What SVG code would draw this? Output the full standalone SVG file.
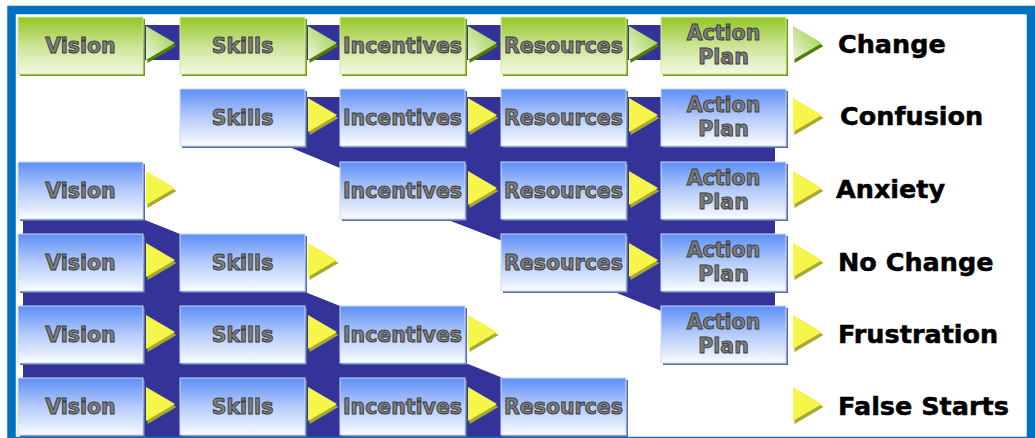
<svg xmlns="http://www.w3.org/2000/svg" width="1035" height="438" viewBox="0 0 1035 438">
<defs>
<linearGradient id="gb" x1="0" y1="0" x2="0" y2="1"><stop offset="0" stop-color="#5D8FF7"/><stop offset="0.5" stop-color="#B5CBFA"/><stop offset="1" stop-color="#FAFCFF"/></linearGradient>
<linearGradient id="gg" x1="0" y1="0" x2="0" y2="1"><stop offset="0" stop-color="#92C623"/><stop offset="0.5" stop-color="#CBE494"/><stop offset="1" stop-color="#F3F9E4"/></linearGradient>
<linearGradient id="gt" x1="0" y1="1" x2="1" y2="0"><stop offset="0" stop-color="#EEF7DD"/><stop offset="1" stop-color="#96CB3A"/></linearGradient>
</defs>
<style>
.navy{fill:#333399}
.shb{fill:#5A6C9C}
.shg{fill:#6E9C12}
.bb{fill:url(#gb);stroke:#C9D9F9;stroke-width:1}
.bg{fill:url(#gg);stroke:#D5EAA5;stroke-width:1}
.t{font-family:"DejaVu Sans",sans-serif;font-weight:bold;font-size:20.5px;fill:#7E7E7E;stroke:#3A3A3A;stroke-width:0.9;text-anchor:middle}
.lab{font-family:"DejaVu Sans",sans-serif;font-weight:bold;font-size:25.5px;fill:#000;stroke:#000;stroke-width:0.5}
.ty{fill:#F6F54A}
.tys{fill:#A9A830}
.tg{fill:url(#gt)}
.tgs{fill:#4F7F05}
</style>
<rect x="0" y="0" width="1035" height="438" fill="#fff"/>
<g id="bands">
<rect class="navy" x="140" y="25" width="525" height="35"/>
<polygon class="navy" points="180,97 775,97 775,312 664,312 612,291 506,291 506,240 500,240 443,218 345,218 345,168 340,168 287,146 185,146"/>
<polygon class="navy" points="23,218 140,218 185,236 300,236 300,290 345,308 460,308 460,362 463,362 508,380 620,380 620,438 23,438"/>
</g>
<g id="connectors">
<polygon class="tgs" points="147.5,29 176.5,46 147.5,63"/><polygon class="tg" points="146,26 175,43 146,60"/>
<polygon class="tgs" points="309.5,29 338.5,46 309.5,63"/><polygon class="tg" points="308,26 337,43 308,60"/>
<polygon class="tgs" points="469.5,29 498.5,46 469.5,63"/><polygon class="tg" points="468,26 497,43 468,60"/>
<polygon class="tgs" points="630.5,29 659.5,46 630.5,63"/><polygon class="tg" points="629,26 658,43 629,60"/>
<polygon class="tgs" points="794.5,29 823.5,46 794.5,63"/><polygon class="tg" points="793,26 822,43 793,60"/>

<polygon class="tys" points="309.5,101 338.5,118 309.5,135"/><polygon class="ty" points="308,98 337,115 308,132"/>
<polygon class="tys" points="469.5,101 498.5,118 469.5,135"/><polygon class="ty" points="468,98 497,115 468,132"/>
<polygon class="tys" points="630.5,101 659.5,118 630.5,135"/><polygon class="ty" points="629,98 658,115 629,132"/>
<polygon class="tys" points="794.5,101 823.5,118 794.5,135"/><polygon class="ty" points="793,98 822,115 793,132"/>

<polygon class="tys" points="147.5,174 176.5,191 147.5,208"/><polygon class="ty" points="146,171 175,188 146,205"/>
<polygon class="tys" points="469.5,174 498.5,191 469.5,208"/><polygon class="ty" points="468,171 497,188 468,205"/>
<polygon class="tys" points="630.5,174 659.5,191 630.5,208"/><polygon class="ty" points="629,171 658,188 629,205"/>
<polygon class="tys" points="794.5,174 823.5,191 794.5,208"/><polygon class="ty" points="793,171 822,188 793,205"/>

<polygon class="tys" points="147.5,246 176.5,263 147.5,280"/><polygon class="ty" points="146,243 175,260 146,277"/>
<polygon class="tys" points="309.5,246 338.5,263 309.5,280"/><polygon class="ty" points="308,243 337,260 308,277"/>
<polygon class="tys" points="630.5,246 659.5,263 630.5,280"/><polygon class="ty" points="629,243 658,260 629,277"/>
<polygon class="tys" points="794.5,246 823.5,263 794.5,280"/><polygon class="ty" points="793,243 822,260 793,277"/>

<polygon class="tys" points="147.5,318 176.5,335 147.5,352"/><polygon class="ty" points="146,315 175,332 146,349"/>
<polygon class="tys" points="309.5,318 338.5,335 309.5,352"/><polygon class="ty" points="308,315 337,332 308,349"/>
<polygon class="tys" points="469.5,318 498.5,335 469.5,352"/><polygon class="ty" points="468,315 497,332 468,349"/>
<polygon class="tys" points="794.5,318 823.5,335 794.5,352"/><polygon class="ty" points="793,315 822,332 793,349"/>

<polygon class="tys" points="147.5,390 176.5,407 147.5,424"/><polygon class="ty" points="146,387 175,404 146,421"/>
<polygon class="tys" points="309.5,390 338.5,407 309.5,424"/><polygon class="ty" points="308,387 337,404 308,421"/>
<polygon class="tys" points="469.5,390 498.5,407 469.5,424"/><polygon class="ty" points="468,387 497,404 468,421"/>
<polygon class="tys" points="794.5,390 823.5,407 794.5,424"/><polygon class="ty" points="793,387 822,404 793,421"/>
</g>

<g id="r1-vision"><rect class="shg" x="20" y="19" width="125" height="57"/><rect class="bg" x="18" y="17" width="125" height="57"/><text class="t" x="80.5" y="53">Vision</text></g>
<g id="r1-skills"><rect class="shg" x="182" y="19" width="125" height="57"/><rect class="bg" x="180" y="17" width="125" height="57"/><text class="t" x="242.5" y="53">Skills</text></g>
<g id="r1-incentives"><rect class="shg" x="342" y="19" width="125" height="57"/><rect class="bg" x="340" y="17" width="125" height="57"/><text class="t" x="402.5" y="53">Incentives</text></g>
<g id="r1-resources"><rect class="shg" x="503" y="19" width="125" height="57"/><rect class="bg" x="501" y="17" width="125" height="57"/><text class="t" x="563.5" y="53">Resources</text></g>
<g id="r1-action"><rect class="shg" x="663" y="19" width="125" height="57"/><rect class="bg" x="661" y="17" width="125" height="57"/><text class="t" x="723.5" y="40">Action<tspan x="723.5" dy="24">Plan</tspan></text></g>

<g id="r2-skills"><rect class="shb" x="182" y="91" width="125" height="57"/><rect class="bb" x="180" y="89" width="125" height="57"/><text class="t" x="242.5" y="125">Skills</text></g>
<g id="r2-incentives"><rect class="shb" x="342" y="91" width="125" height="57"/><rect class="bb" x="340" y="89" width="125" height="57"/><text class="t" x="402.5" y="125">Incentives</text></g>
<g id="r2-resources"><rect class="shb" x="503" y="91" width="125" height="57"/><rect class="bb" x="501" y="89" width="125" height="57"/><text class="t" x="563.5" y="125">Resources</text></g>
<g id="r2-action"><rect class="shb" x="663" y="91" width="125" height="57"/><rect class="bb" x="661" y="89" width="125" height="57"/><text class="t" x="723.5" y="112">Action<tspan x="723.5" dy="24">Plan</tspan></text></g>

<g id="r3-vision"><rect class="shb" x="20" y="164" width="125" height="57"/><rect class="bb" x="18" y="162" width="125" height="57"/><text class="t" x="80.5" y="198">Vision</text></g>
<g id="r3-incentives"><rect class="shb" x="342" y="164" width="125" height="57"/><rect class="bb" x="340" y="162" width="125" height="57"/><text class="t" x="402.5" y="198">Incentives</text></g>
<g id="r3-resources"><rect class="shb" x="503" y="164" width="125" height="57"/><rect class="bb" x="501" y="162" width="125" height="57"/><text class="t" x="563.5" y="198">Resources</text></g>
<g id="r3-action"><rect class="shb" x="663" y="164" width="125" height="57"/><rect class="bb" x="661" y="162" width="125" height="57"/><text class="t" x="723.5" y="185">Action<tspan x="723.5" dy="24">Plan</tspan></text></g>

<g id="r4-vision"><rect class="shb" x="20" y="236" width="125" height="57"/><rect class="bb" x="18" y="234" width="125" height="57"/><text class="t" x="80.5" y="270">Vision</text></g>
<g id="r4-skills"><rect class="shb" x="182" y="236" width="125" height="57"/><rect class="bb" x="180" y="234" width="125" height="57"/><text class="t" x="242.5" y="270">Skills</text></g>
<g id="r4-resources"><rect class="shb" x="503" y="236" width="125" height="57"/><rect class="bb" x="501" y="234" width="125" height="57"/><text class="t" x="563.5" y="270">Resources</text></g>
<g id="r4-action"><rect class="shb" x="663" y="236" width="125" height="57"/><rect class="bb" x="661" y="234" width="125" height="57"/><text class="t" x="723.5" y="257">Action<tspan x="723.5" dy="24">Plan</tspan></text></g>

<g id="r5-vision"><rect class="shb" x="20" y="308" width="125" height="57"/><rect class="bb" x="18" y="306" width="125" height="57"/><text class="t" x="80.5" y="342">Vision</text></g>
<g id="r5-skills"><rect class="shb" x="182" y="308" width="125" height="57"/><rect class="bb" x="180" y="306" width="125" height="57"/><text class="t" x="242.5" y="342">Skills</text></g>
<g id="r5-incentives"><rect class="shb" x="342" y="308" width="125" height="57"/><rect class="bb" x="340" y="306" width="125" height="57"/><text class="t" x="402.5" y="342">Incentives</text></g>
<g id="r5-action"><rect class="shb" x="663" y="308" width="125" height="57"/><rect class="bb" x="661" y="306" width="125" height="57"/><text class="t" x="723.5" y="329">Action<tspan x="723.5" dy="24">Plan</tspan></text></g>

<g id="r6-vision"><rect class="shb" x="20" y="380" width="125" height="57"/><rect class="bb" x="18" y="378" width="125" height="57"/><text class="t" x="80.5" y="414">Vision</text></g>
<g id="r6-skills"><rect class="shb" x="182" y="380" width="125" height="57"/><rect class="bb" x="180" y="378" width="125" height="57"/><text class="t" x="242.5" y="414">Skills</text></g>
<g id="r6-incentives"><rect class="shb" x="342" y="380" width="125" height="57"/><rect class="bb" x="340" y="378" width="125" height="57"/><text class="t" x="402.5" y="414">Incentives</text></g>
<g id="r6-resources"><rect class="shb" x="503" y="380" width="125" height="57"/><rect class="bb" x="501" y="378" width="125" height="57"/><text class="t" x="563.5" y="414">Resources</text></g>

<g id="labels">
<text class="lab" x="838" y="53">Change</text>
<text class="lab" x="840" y="125">Confusion</text>
<text class="lab" x="836" y="198">Anxiety</text>
<text class="lab" x="838" y="271">No Change</text>
<text class="lab" x="838" y="343">Frustration</text>
<text class="lab" x="838" y="415">False Starts</text>
</g>
<rect x="11.5" y="10" width="1019.5" height="431" fill="none" stroke="#0070C0" stroke-width="8.5"/>
</svg>
